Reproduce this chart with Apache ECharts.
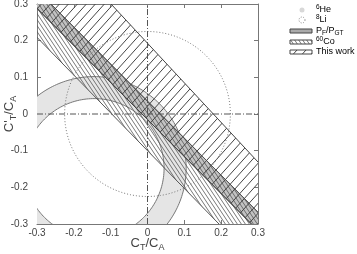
<!DOCTYPE html>
<html><head><meta charset="utf-8">
<script src="https://cdn.jsdelivr.net/npm/echarts@6/dist/echarts.min.js"></script>
<style>html,body{margin:0;padding:0;background:#fff}#c{width:357px;height:254px}</style>
</head><body><div id="c"></div>
<script>
// ---- data ----
const axisMin = -0.3, axisMax = 0.3, axisStep = 0.1;
const he6Center = [-0.145, -0.148];
const he6Radii = [0.19, 0.25];          // inner, outer
const li8Center = [0, 0];
const li8Radius = 0.225;
// band edges as end points [C_T/C_A, C'_T/C_A]
const pfpgtUpper = [[-0.35, 0.3885], [0.35, -0.3185]];
const pfpgtLower = [[-0.35, 0.3385], [0.35, -0.3685]];
const co60Upper = [[-0.35, 0.3885], [0.35, -0.3185]];
const co60Lower = [[-0.35, 0.2605], [0.35, -0.4605]];
const thisWorkUpper = [[-0.35, 0.571], [0.35, -0.185]];
const thisWorkLower = [[-0.35, 0.3385], [0.35, -0.3685]];
const zeroLineX = [[0, -0.3], [0, 0.3]];
const zeroLineY = [[-0.3, 0], [0.3, 0]];

// ---- patterns ----
function hatchTile(w, h, dir, color, lw) {
  const c = document.createElement('canvas'); c.width = w; c.height = h;
  const g = c.getContext('2d'); g.strokeStyle = color; g.lineWidth = lw;
  g.beginPath();
  for (let k = -1; k <= 1; k++) {
    if (dir === '/') { g.moveTo(k * w, h); g.lineTo(k * w + w, 0); }
    else { g.moveTo(k * w, 0); g.lineTo(k * w + w, h); }
  }
  g.stroke(); return c;
}
const patThis = { image: hatchTile(9, 10, '/', '#444', 1), repeat: 'repeat' };
const patCo = { image: hatchTile(4, 6, '\\', '#555', 0.8), repeat: 'repeat' };

function circlePts(c, r) {
  const a = [];
  for (let i = 0; i <= 240; i++) { const t = 2 * Math.PI * i / 240; a.push([c[0] + r * Math.cos(t), c[1] + r * Math.sin(t)]); }
  return a;
}
function customSeries(z, build) {
  return { type: 'custom', coordinateSystem: 'cartesian2d', clip: true, silent: true, z: z,
    data: [[0, 0]], renderItem: (p, api) => build(api) };
}
function band(upper, lower, style) {
  return api => ({ type: 'polygon', shape: { points: upper.concat(lower.slice().reverse()).map(q => api.coord(q)) }, style: style });
}

const series = [
  customSeries(1, api => ({ type: 'group', children: [
    { type: 'polygon', shape: { points: circlePts(he6Center, he6Radii[1]).map(q => api.coord(q)) }, style: { fill: '#e5e5e5', stroke: '#777', lineWidth: 1 } },
    { type: 'polygon', shape: { points: circlePts(he6Center, he6Radii[0]).map(q => api.coord(q)) }, style: { fill: '#fff', stroke: '#777', lineWidth: 1 } }
  ] })),
  customSeries(2, band(pfpgtUpper, pfpgtLower, { fill: '#c2c2c2', stroke: '#555', lineWidth: 1 })),
  customSeries(3, band(co60Upper, co60Lower, { fill: patCo, stroke: '#555', lineWidth: 1 })),
  customSeries(4, band(thisWorkUpper, thisWorkLower, { fill: patThis, stroke: '#444', lineWidth: 1 })),
  customSeries(5, api => ({ type: 'polyline', shape: { points: circlePts(li8Center, li8Radius).map(q => api.coord(q)) }, style: { fill: 'none', stroke: '#777', lineWidth: 1, lineDash: [1, 2] } })),
  customSeries(6, api => ({ type: 'group', children: [
    { type: 'polyline', shape: { points: zeroLineX.map(q => api.coord(q)) }, style: { stroke: '#555', lineWidth: 1, lineDash: [6, 2, 1, 2] } },
    { type: 'polyline', shape: { points: zeroLineY.map(q => api.coord(q)) }, style: { stroke: '#555', lineWidth: 1, lineDash: [6, 2, 1, 2] } }
  ] }))
];

const FONT = 'Liberation Sans, Arial, sans-serif';
const nameRich = {
  m: { fontSize: 13, color: '#444', fontFamily: FONT, lineHeight: 17 },
  s: { fontSize: 9, color: '#444', fontFamily: FONT, lineHeight: 9, verticalAlign: 'bottom' }
};
const fmt = v => String(Math.round(v * 10) / 10);
function axis(pos, show, extra) {
  return Object.assign({
    type: 'value', min: axisMin, max: axisMax, interval: axisStep, position: pos,
    axisLine: { show: true, onZero: false, lineStyle: { color: '#777', width: 1 } },
    axisTick: { show: true, inside: true, length: 4, lineStyle: { color: '#777' } },
    splitLine: { show: false },
    axisLabel: { show: show, formatter: fmt, color: '#444', fontSize: 10, fontFamily: FONT, margin: pos === 'left' ? 9 : 4 }
  }, extra || {});
}

const supRich = {
  m: { fontSize: 9, color: '#444', fontFamily: FONT, lineHeight: 12 },
  sup: { fontSize: 6.5, color: '#444', fontFamily: FONT, lineHeight: 7, verticalAlign: 'top' },
  sub: { fontSize: 6.5, color: '#444', fontFamily: FONT, lineHeight: 7, verticalAlign: 'bottom' }
};
const legendText = ['{sup|6}{m|He}', '{sup|8}{m|Li}', '{m|P}{sub|F}{m|/P}{sub|GT}', '{sup|60}{m|Co}', '{m|This work}'];
const legendY = [10, 20, 31, 42, 52];

const graphic = [
  { type: 'circle', shape: { cx: 302, cy: legendY[0], r: 2.5 }, style: { fill: '#d8d8d8' } },
  { type: 'circle', shape: { cx: 302, cy: legendY[1], r: 3 }, style: { fill: 'none', stroke: '#888', lineWidth: 1, lineDash: [1, 1.5] } },
  { type: 'rect', shape: { x: 290, y: legendY[2] - 2, width: 22, height: 4 }, style: { fill: '#aaa', stroke: '#444', lineWidth: 1 } },
  { type: 'rect', shape: { x: 290, y: legendY[3] - 2, width: 22, height: 4 }, style: { fill: patCo, stroke: '#444', lineWidth: 1 } },
  { type: 'rect', shape: { x: 290, y: legendY[4] - 2, width: 22, height: 4 }, style: { fill: patThis, stroke: '#444', lineWidth: 1 } }
].concat(legendText.map((t, i) => ({ type: 'text', x: 316, y: legendY[i], style: { text: t, rich: supRich, verticalAlign: 'middle', align: 'left' } })));

const chart = echarts.init(document.getElementById('c'), null, { renderer: 'canvas' });
chart.setOption({
  animation: false,
  grid: { left: 37, right: 99, top: 4, bottom: 30, show: false, containLabel: false, outerBoundsMode: 'none' },
  xAxis: [
    axis('bottom', true, { name: '{m|C}{s|T}{m|/C}{s|A}', nameLocation: 'middle', nameGap: 11, nameMoveOverlap: false, nameTextStyle: { rich: nameRich } }),
    axis('top', false)
  ],
  yAxis: [
    axis('left', true, { name: "{m|C'}{s|T}{m|/C}{s|A}", nameLocation: 'middle', nameGap: 19, nameMoveOverlap: false, nameTextStyle: { rich: nameRich } }),
    axis('right', false)
  ],
  series: series,
  graphic: graphic
});
</script></body></html>
